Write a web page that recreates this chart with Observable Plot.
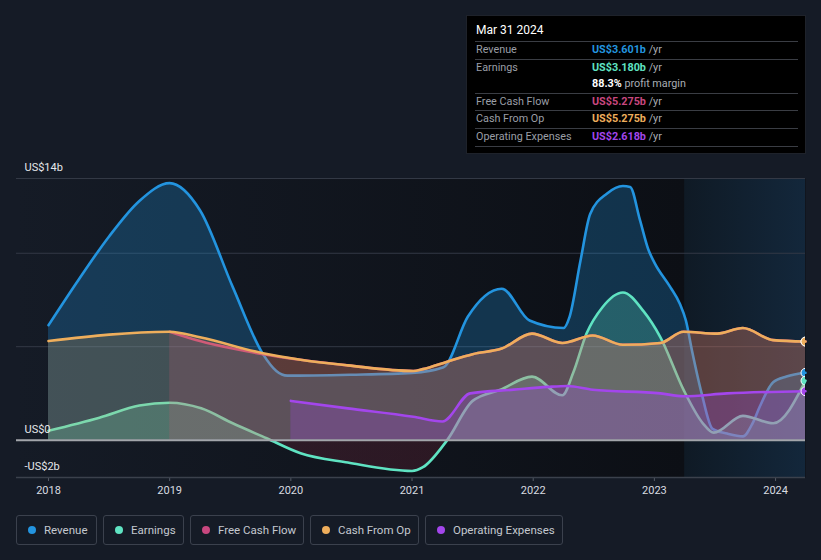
<!DOCTYPE html>
<html>
<head>
<meta charset="utf-8">
<script src="https://cdn.jsdelivr.net/npm/d3@7"></script>
<script src="https://cdn.jsdelivr.net/npm/@observablehq/plot@0.6"></script>
<style>
  body { margin: 0; background: #151b26; font-family: Roboto, "Open Sans", sans-serif; }
  #wrap { position: relative; width: 821px; height: 560px; overflow: hidden; background: #151b26; }
  #chart { position: absolute; left: 0; top: 0; }
  #tip { position: absolute; left: 466px; top: 15px; width: 340px; height: 139px; background: #000; border: 1px solid #1e222a; box-sizing: border-box; padding: 0 7px 0 8px; }
  #tip .title { color: #fff; font-size: 12px; height: 25px; line-height: 29px; padding-left: 1px; }
  #tip .row { border-top: 1px solid #3a3d44; display: flex; font-size: 10.8px; line-height: 16.6px; }
  #tip .row:last-child { border-bottom: 1px solid #3a3d44; }
  #tip .lab { width: 116px; color: #9a9ea6; padding-left: 1px; }
  #tip .val b { font-weight: 700; }
  #tip .val span { color: #a9adb4; }
  #legend { position: absolute; left: 16px; top: 515px; display: flex; gap: 6px; }
  .item { height: 30px; border: 1px solid #3b414d; border-radius: 3px; display: flex; align-items: center; color: #c4c8cf; font-size: 11.5px; box-sizing: border-box; padding-left: 11px; }
  .dot { width: 8px; height: 8px; border-radius: 50%; margin-right: 8px; }
</style>
</head>
<body>
<div id="wrap">
  <div id="chart"></div>
  <div id="tip"></div>
  <div id="legend"></div>
</div>
<script>
// ---- data (values in US$ billions, x in decimal years) ----
const xTicks = [2018, 2019, 2020, 2021, 2022, 2023, 2024];
const yLabelValues = [14, 0, -2];
const yLabelTexts = ["US$14b", "US$0", "-US$2b"];
const gridValues = [5, 10, 14];

const revenueT = [2018.0, 2018.25, 2018.5, 2018.75, 2019.0, 2019.25, 2019.52, 2019.77, 2019.88, 2019.97, 2020.49, 2021.0, 2021.26, 2021.46, 2021.74, 2021.97, 2022.25, 2022.30, 2022.39, 2022.47, 2022.61, 2022.74, 2022.80, 2022.88, 2022.95, 2023.0, 2023.13, 2023.21, 2023.26, 2023.31, 2023.39, 2023.48, 2023.60, 2023.73, 2023.81, 2023.87, 2023.98, 2024.09, 2024.247];
const revenueV = [6.15, 8.6, 10.9, 12.8, 13.75, 12.3, 8.2, 4.6, 3.7, 3.45, 3.5, 3.6, 3.9, 6.6, 8.1, 6.4, 6.0, 6.6, 9.6, 12.1, 13.2, 13.6, 13.55, 11.8, 10.2, 9.5, 8.2, 7.3, 6.4, 4.8, 2.5, 0.6, 0.35, 0.2, 0.9, 1.8, 3.1, 3.4, 3.601];

const earningsT = [2018.0, 2018.42, 2018.75, 2019.0, 2019.26, 2019.52, 2019.8, 2020.08, 2020.47, 2021.0, 2021.09, 2021.29, 2021.5, 2021.73, 2021.99, 2022.24, 2022.33, 2022.44, 2022.57, 2022.74, 2022.91, 2023.05, 2023.24, 2023.40, 2023.49, 2023.73, 2023.98, 2024.247];
const earningsV = [0.5, 1.2, 1.85, 2.0, 1.7, 0.9, 0.1, -0.7, -1.2, -1.65, -1.45, 0.0, 2.1, 2.7, 3.4, 2.4, 3.6, 5.7, 7.1, 7.9, 6.9, 5.5, 2.7, 0.9, 0.4, 1.3, 0.9, 3.18];

const fcfT = [2019.0, 2019.25, 2019.52, 2019.77, 2020.08, 2020.47, 2021.01, 2021.09, 2021.29, 2021.5, 2021.74, 2021.99, 2022.24, 2022.49, 2022.74, 2023.05, 2023.24, 2023.52, 2023.73, 2023.98, 2024.247];
const fcfV = [5.8, 5.3, 4.9, 4.6, 4.3, 4.0, 3.7, 3.8, 4.2, 4.6, 4.9, 5.7, 5.2, 5.6, 5.1, 5.2, 5.8, 5.7, 6.0, 5.35, 5.275];

const cfoT = [2018.0, 2019.0, 2019.25, 2019.77, 2020.08, 2020.47, 2021.01, 2021.09, 2021.29, 2021.5, 2021.74, 2021.99, 2022.24, 2022.49, 2022.74, 2023.05, 2023.24, 2023.52, 2023.73, 2023.98, 2024.247];
const cfoV = [5.3, 5.8, 5.5, 4.65, 4.3, 4.0, 3.7, 3.8, 4.2, 4.6, 4.9, 5.7, 5.2, 5.6, 5.1, 5.2, 5.8, 5.7, 6.0, 5.35, 5.275];

const opexT = [2020.0, 2020.47, 2021.01, 2021.25, 2021.48, 2021.84, 2022.12, 2022.28, 2022.49, 2023.05, 2023.24, 2023.60, 2024.247];
const opexV = [2.1, 1.7, 1.25, 1.0, 2.5, 2.7, 2.85, 2.9, 2.7, 2.5, 2.35, 2.5, 2.618];

const seriesNames = ["Revenue", "Earnings", "Free Cash Flow", "Cash From Op", "Operating Expenses"];
const seriesColors = ["#2394df", "#5fe3c2", "#c8477f", "#eeae5c", "#a346ec"];
const tipValues = ["US$3.601b", "US$3.180b", "US$5.275b", "US$5.275b", "US$2.618b"];
const profitMargin = "88.3%";
const tipDate = "Mar 31 2024";
const forecastStart = 2023.25;
const xDomain = [2017.736, 2024.247];

// ---- build tables ----
const toRows = (T, V) => T.map((t, i) => ({t, v: V[i]}));
const revenue = toRows(revenueT, revenueV);
const earnings = toRows(earningsT, earningsV);
const fcf = toRows(fcfT, fcfV);
const cfo = toRows(cfoT, cfoV);
const opex = toRows(opexT, opexV);
const lastPoints = [
  {t: xDomain[1], v: revenueV.at(-1), c: seriesColors[0]},
  {t: xDomain[1], v: earningsV.at(-1), c: seriesColors[1]},
  {t: xDomain[1], v: opexV.at(-1), c: seriesColors[4]},
  {t: xDomain[1], v: fcfV.at(-1), c: seriesColors[2]},
  {t: xDomain[1], v: cfoV.at(-1), c: seriesColors[3]}
];

function defs(index, scales, values, dimensions) {
  const ns = "http://www.w3.org/2000/svg";
  const g = document.createElementNS(ns, "defs");
  const y0 = scales.y(0);
  const xf = (scales.x(forecastStart) - dimensions.marginLeft) / (dimensions.width - dimensions.marginLeft - dimensions.marginRight);
  g.innerHTML = `
    <linearGradient id="bgGrad" x1="0" x2="1" y1="0" y2="0">
      <stop offset="0" stop-color="#151b26"/>
      <stop offset="${xf}" stop-color="#0c0f15"/>
    </linearGradient>
    <linearGradient id="hlGrad" x1="0" x2="1" y1="0" y2="0">
      <stop offset="0" stop-color="#0f1a25"/>
      <stop offset="1" stop-color="#13273b"/>
    </linearGradient>
    <linearGradient id="earnFill" gradientUnits="userSpaceOnUse" x1="0" x2="0" y1="${y0 - 1}" y2="${y0 + 1}">
      <stop offset="0.5" stop-color="#5fe3c2" stop-opacity="0.25"/>
      <stop offset="0.5" stop-color="#c0304e" stop-opacity="0.16"/>
    </linearGradient>`;
  return g;
}

const curve = "monotone-x";
const sw = 2.6;
const plot = Plot.plot({
  width: 821,
  height: 500,
  marginTop: 178,
  marginLeft: 16,
  marginRight: 16,
  marginBottom: 23,
  style: {background: "transparent", color: "#d8dbe0", fontFamily: "Roboto, sans-serif", fontSize: "11px"},
  x: {domain: xDomain, ticks: xTicks, tickFormat: d => String(d), tickSize: 4, tickPadding: 5, label: null},
  y: {domain: [-2, 14], axis: null},
  marks: [
    defs,
    Plot.frame({fill: "url(#bgGrad)", stroke: null}),
    Plot.rect([0], {x1: forecastStart, x2: xDomain[1], y1: -2, y2: 14, fill: "url(#hlGrad)"}),
    Plot.ruleY(gridValues, {stroke: "#333945", strokeWidth: 1}),
    Plot.ruleY([-2], {stroke: "#3b414c", strokeWidth: 1.5}),
    // Revenue
    Plot.areaY(revenue, {x: "t", y1: 0, y2: "v", fill: seriesColors[0], fillOpacity: 0.27, curve}),
    Plot.lineY(revenue, {x: "t", y: "v", stroke: seriesColors[0], strokeWidth: sw, curve}),
    // Earnings
    Plot.areaY(earnings, {x: "t", y1: 0, y2: "v", fill: "url(#earnFill)", curve}),
    Plot.lineY(earnings, {x: "t", y: "v", stroke: seriesColors[1], strokeWidth: sw, curve}),
    // Free cash flow
    Plot.areaY(fcf, {x: "t", y1: 0, y2: "v", fill: seriesColors[2], fillOpacity: 0.2, curve}),
    Plot.lineY(fcf, {x: "t", y: "v", stroke: seriesColors[2], strokeWidth: sw, curve}),
    // Cash from op
    Plot.areaY(cfo, {x: "t", y1: 0, y2: "v", fill: seriesColors[3], fillOpacity: 0.2, curve}),
    Plot.lineY(cfo, {x: "t", y: "v", stroke: seriesColors[3], strokeWidth: sw, curve}),
    // Operating expenses
    Plot.areaY(opex, {x: "t", y1: 0, y2: "v", fill: seriesColors[4], fillOpacity: 0.25, curve}),
    Plot.lineY(opex, {x: "t", y: "v", stroke: seriesColors[4], strokeWidth: sw, curve}),
    Plot.ruleY([0], {stroke: "#a3a6ab", strokeWidth: 2}),
    Plot.text(yLabelValues, {y: d => d, text: (d, i) => yLabelTexts[i], frameAnchor: "left", textAnchor: "start", dx: 8, dy: -11, fill: "#e6e8eb", fontSize: 11}),
    Plot.dot(lastPoints, {x: "t", y: "v", fill: "c", stroke: "#fff", strokeWidth: 1, r: 4.5, clip: true})
  ]
});
document.getElementById("chart").appendChild(plot);
plot.querySelectorAll('[aria-label="x-axis tick"]').forEach(g => g.setAttribute("stroke", "#555b66"));

// ---- tooltip ----
const tip = document.getElementById("tip");
const tipHtml = [`<div class="title">${tipDate}</div>`];
const addRow = (label, value, color) => tipHtml.push(`<div class="row"><div class="lab">${label}</div><div class="val"><b style="color:${color}">${value}</b> <span>/yr</span></div></div>`);
addRow(seriesNames[0], tipValues[0], seriesColors[0]);
tipHtml.push(`<div class="row" style="flex-direction:column"><div style="display:flex"><div class="lab">${seriesNames[1]}</div><div class="val"><b style="color:${seriesColors[1]}">${tipValues[1]}</b> <span>/yr</span></div></div><div style="display:flex"><div class="lab"></div><div class="val"><b style="color:#fff">${profitMargin}</b> <span>profit margin</span></div></div></div>`);
addRow(seriesNames[2], tipValues[2], seriesColors[2]);
addRow(seriesNames[3], tipValues[3], seriesColors[3]);
addRow(seriesNames[4], tipValues[4], seriesColors[4]);
tip.innerHTML = tipHtml.join("");

// ---- legend ----
const legendWidths = [81, 81, 114, 109, 138];
document.getElementById("legend").innerHTML = seriesNames.map((n, i) =>
  `<div class="item" style="width:${legendWidths[i]}px"><span class="dot" style="background:${seriesColors[i]}"></span>${n}</div>`).join("");
</script>
</body>
</html>
